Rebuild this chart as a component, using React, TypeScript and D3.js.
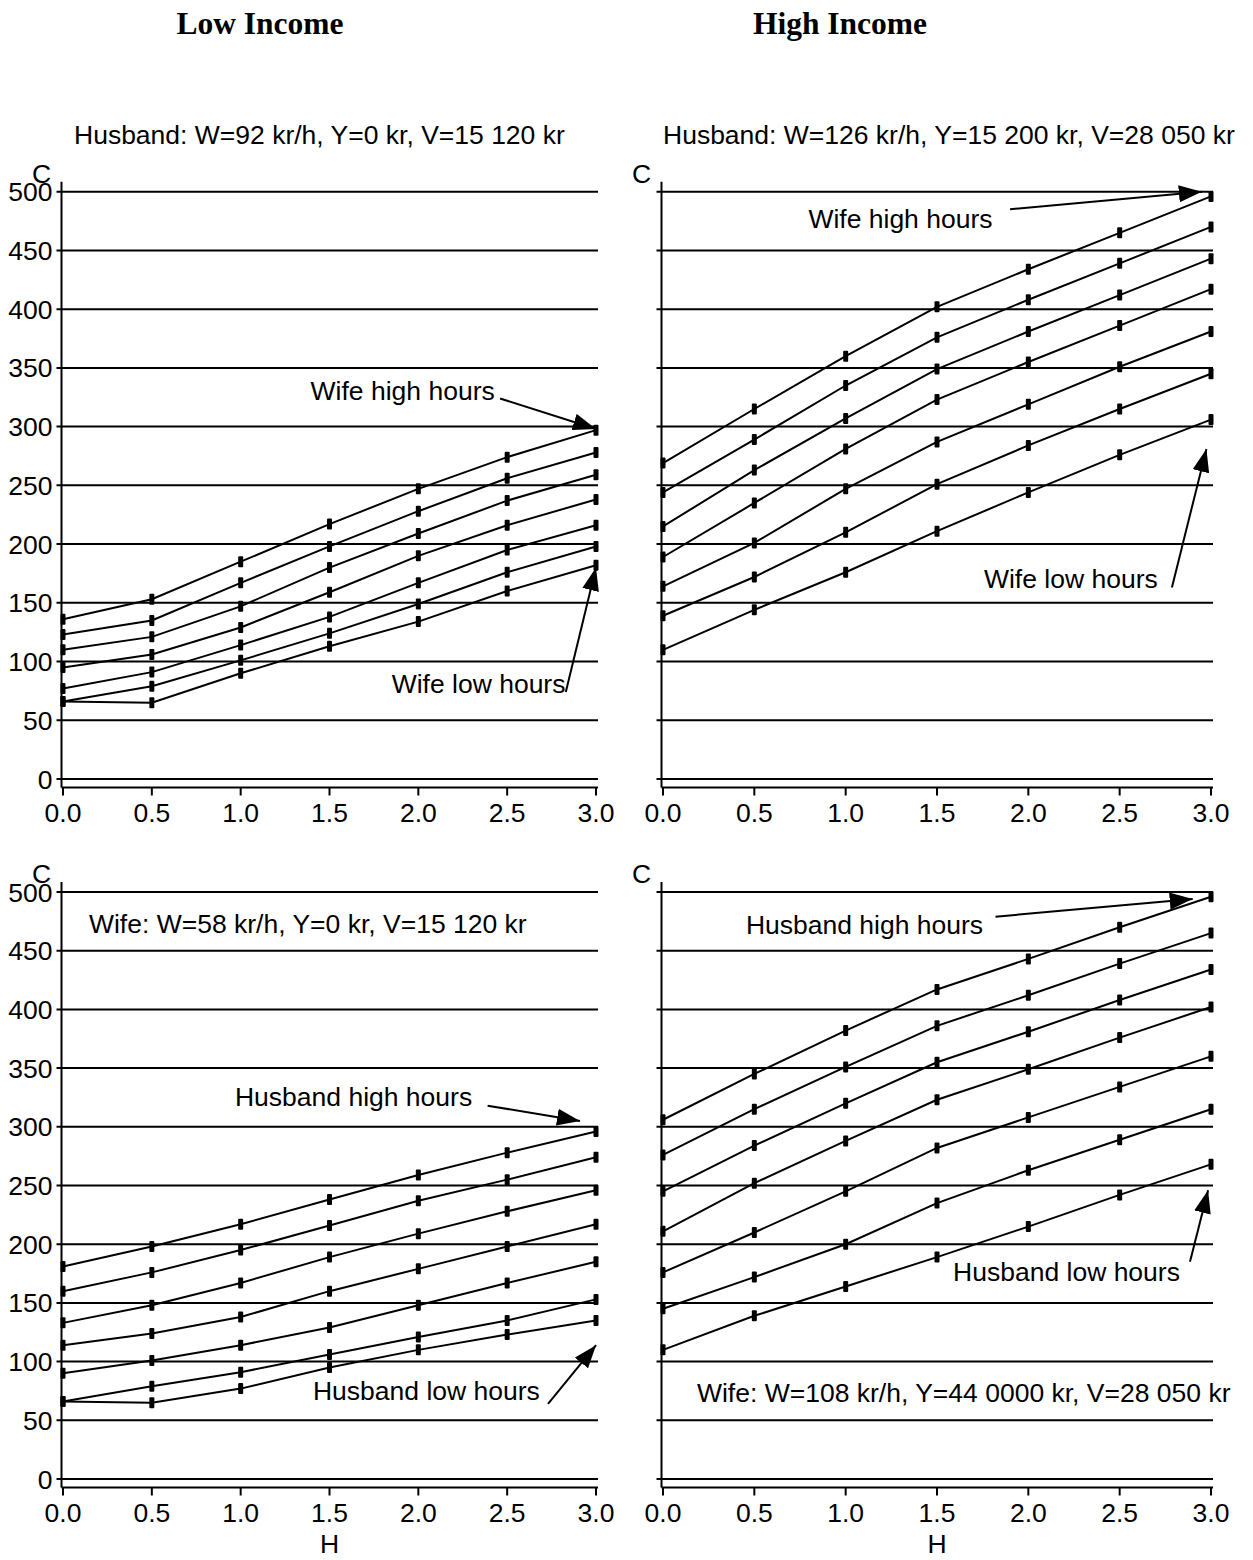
import React, { useEffect, useRef } from "react";
import * as d3 from "d3";

const width = 1253;
const height = 1560;

const hours = [0, 0.5, 1.0, 1.5, 2.0, 2.5, 3.0];
const xTicks = [0, 0.5, 1.0, 1.5, 2.0, 2.5, 3.0];
const yTicks = [0, 50, 100, 150, 200, 250, 300, 350, 400, 450, 500];

// low income, one line per wife hours level (top = high hours)
const lowWifeLines = [
  [136, 153, 185, 217, 247, 274, 297],
  [123, 135, 167, 198, 228, 256, 278],
  [110, 121, 147, 180, 209, 237, 259],
  [95, 106, 129, 159, 190, 216, 238],
  [77, 91, 114, 138, 167, 195, 216],
  [66, 79, 101, 124, 149, 176, 198],
  [66, 65, 90, 113, 134, 160, 182],
];

// high income, one line per wife hours level
const highWifeLines = [
  [269, 315, 360, 402, 434, 465, 496],
  [244, 289, 335, 376, 408, 439, 470],
  [215, 263, 307, 349, 381, 412, 443],
  [189, 235, 281, 323, 355, 386, 417],
  [164, 201, 247, 287, 319, 351, 381],
  [139, 172, 210, 251, 284, 315, 345],
  [110, 144, 176, 211, 244, 276, 306],
];

// low income, one line per husband hours level
const lowHusbandLines = [
  [181, 198, 217, 238, 259, 278, 296],
  [160, 176, 195, 216, 237, 255, 274],
  [133, 148, 167, 189, 209, 228, 246],
  [114, 124, 138, 160, 179, 198, 217],
  [90, 101, 114, 129, 148, 167, 185],
  [66, 79, 91, 106, 121, 135, 153],
  [66, 65, 77, 95, 110, 123, 135],
];

// high income, one line per husband hours level
const highHusbandLines = [
  [306, 345, 382, 417, 443, 470, 496],
  [276, 315, 351, 386, 412, 439, 465],
  [245, 284, 320, 355, 381, 408, 434],
  [211, 252, 288, 323, 349, 376, 402],
  [176, 210, 245, 282, 308, 334, 360],
  [145, 172, 200, 235, 263, 289, 315],
  [110, 139, 164, 189, 215, 242, 268],
];

const sans = "'Liberation Sans', Arial, sans-serif";
const serif = "'Liberation Serif', 'Times New Roman', serif";
const fontSize = "26.5px";

type Label = { text: string; x: number; y: number; anchor: string };
type Arrow = { from: [number, number]; to: [number, number] };

const panels = [
  {
    left: 63, right: 596, bottom: 779, top: 191.7,
    yLabels: true, xTitle: false,
    lines: lowWifeLines,
    labels: [
      { text: "Husband: W=92 kr/h, Y=0 kr, V=15 120 kr", x: 0.062, y: 541, anchor: "start" },
      { text: "Wife high hours", x: 2.43, y: 323, anchor: "end" },
      { text: "Wife low hours", x: 1.85, y: 73, anchor: "start" },
    ] as Label[],
    arrows: [
      { from: [2.46, 324], to: [3.0, 298] },
      { from: [2.83, 74], to: [3.0, 180] },
    ] as Arrow[],
  },
  {
    left: 663, right: 1211, bottom: 779, top: 191.7,
    yLabels: false, xTitle: false,
    lines: highWifeLines,
    labels: [
      { text: "Husband: W=126 kr/h, Y=15 200 kr, V=28 050 kr", x: 0, y: 541, anchor: "start" },
      { text: "Wife high hours", x: 1.3, y: 469, anchor: "middle" },
      { text: "Wife low hours", x: 1.757, y: 163, anchor: "start" },
    ] as Label[],
    arrows: [
      { from: [1.9, 485], to: [2.95, 500] },
      { from: [2.786, 163], to: [2.975, 281] },
    ] as Arrow[],
  },
  {
    left: 63, right: 596, bottom: 1479, top: 892,
    yLabels: true, xTitle: true,
    lines: lowHusbandLines,
    labels: [
      { text: "Wife: W=58 kr/h, Y=0 kr, V=15 120 kr", x: 0.146, y: 465, anchor: "start" },
      { text: "Husband high hours", x: 0.968, y: 318, anchor: "start" },
      { text: "Husband low hours", x: 1.407, y: 67, anchor: "start" },
    ] as Label[],
    arrows: [
      { from: [2.39, 318], to: [2.91, 305] },
      { from: [2.73, 64], to: [3.0, 114] },
    ] as Arrow[],
  },
  {
    left: 663, right: 1211, bottom: 1479, top: 892,
    yLabels: false, xTitle: true,
    lines: highHusbandLines,
    labels: [
      { text: "Husband high hours", x: 0.454, y: 464, anchor: "start" },
      { text: "Husband low hours", x: 1.588, y: 169, anchor: "start" },
      { text: "Wife: W=108 kr/h, Y=44 0000 kr, V=28 050 kr", x: 0.186, y: 66, anchor: "start" },
    ] as Label[],
    arrows: [
      { from: [1.82, 479], to: [2.9, 494] },
      { from: [2.885, 185], to: [2.984, 246] },
    ] as Arrow[],
  },
];

const titles = [
  { text: "Low Income", x: 260 },
  { text: "High Income", x: 840 },
];

export default function App() {
  const ref = useRef<SVGSVGElement>(null);

  useEffect(() => {
    document.body.style.margin = "0";
    const svg = d3.select(ref.current);
    svg.selectAll("*").remove();

    svg.append("rect").attr("width", width).attr("height", height).attr("fill", "#fff");

    svg
      .append("defs")
      .append("marker")
      .attr("id", "head")
      .attr("markerUnits", "userSpaceOnUse")
      .attr("viewBox", "0 0 23 17")
      .attr("refX", 23)
      .attr("refY", 8.5)
      .attr("markerWidth", 23)
      .attr("markerHeight", 17)
      .attr("orient", "auto")
      .append("path")
      .attr("d", "M0,0 L23,8.5 L0,17 Z")
      .attr("fill", "#000");

    // column titles
    svg
      .selectAll("text.title")
      .data(titles)
      .enter()
      .append("text")
      .attr("class", "title")
      .attr("x", (d) => d.x)
      .attr("y", 34)
      .attr("text-anchor", "middle")
      .style("font-family", serif)
      .style("font-weight", "bold")
      .style("font-size", "31.5px")
      .text((d) => d.text);

    panels.forEach((p) => {
      const x = d3.scaleLinear().domain([0, 3]).range([p.left, p.right]);
      const y = d3.scaleLinear().domain([0, 500]).range([p.bottom, p.top]);
      const g = svg.append("g");
      const axisX = x(0) - 1.5;
      const baseY = y(0) + 8.5;

      // gridlines with small ticks on the left
      g.selectAll("line.grid")
        .data(yTicks)
        .enter()
        .append("line")
        .attr("x1", axisX - 5)
        .attr("x2", x(3) + 2)
        .attr("y1", (d) => y(d))
        .attr("y2", (d) => y(d))
        .attr("stroke", "#000")
        .attr("stroke-width", 2);

      // y axis
      g.append("line")
        .attr("x1", axisX)
        .attr("x2", axisX)
        .attr("y1", y(500) - 10)
        .attr("y2", baseY)
        .attr("stroke", "#000")
        .attr("stroke-width", 2);

      // x axis
      g.append("line")
        .attr("x1", axisX)
        .attr("x2", x(3) + 2)
        .attr("y1", baseY)
        .attr("y2", baseY)
        .attr("stroke", "#000")
        .attr("stroke-width", 2);

      g.selectAll("line.xtick")
        .data(xTicks)
        .enter()
        .append("line")
        .attr("x1", (d) => x(d))
        .attr("x2", (d) => x(d))
        .attr("y1", baseY)
        .attr("y2", baseY + 8)
        .attr("stroke", "#000")
        .attr("stroke-width", 2);

      g.selectAll("text.xlab")
        .data(xTicks)
        .enter()
        .append("text")
        .attr("x", (d) => x(d))
        .attr("y", y(0) + 43)
        .attr("text-anchor", "middle")
        .style("font-family", sans)
        .style("font-size", fontSize)
        .text((d) => d3.format(".1f")(d));

      if (p.yLabels) {
        g.selectAll("text.ylab")
          .data(yTicks)
          .enter()
          .append("text")
          .attr("x", axisX - 9)
          .attr("y", (d) => y(d) + 9.5)
          .attr("text-anchor", "end")
          .style("font-family", sans)
          .style("font-size", fontSize)
          .text((d) => d);
      }

      g.append("text")
        .attr("x", axisX - 20)
        .attr("y", y(500) - 9)
        .attr("text-anchor", "middle")
        .style("font-family", sans)
        .style("font-size", fontSize)
        .text("C");

      if (p.xTitle) {
        g.append("text")
          .attr("x", x(1.5))
          .attr("y", y(0) + 74)
          .attr("text-anchor", "middle")
          .style("font-family", sans)
          .style("font-size", fontSize)
          .text("H");
      }

      const line = d3
        .line<number>()
        .x((d, i) => x(hours[i]))
        .y((d) => y(d));

      p.lines.forEach((vals) => {
        g.append("path")
          .datum(vals)
          .attr("d", line)
          .attr("fill", "none")
          .attr("stroke", "#000")
          .attr("stroke-width", 2);

        g.selectAll(null)
          .data(vals)
          .enter()
          .append("rect")
          .attr("x", (d, i) => x(hours[i]) - 2.5)
          .attr("y", (d) => y(d) - 5.5)
          .attr("width", 5)
          .attr("height", 11)
          .attr("rx", 1)
          .attr("fill", "#000");
      });

      p.labels.forEach((l) => {
        g.append("text")
          .attr("x", x(l.x))
          .attr("y", y(l.y))
          .attr("text-anchor", l.anchor)
          .style("font-family", sans)
          .style("font-size", fontSize)
          .text(l.text);
      });

      p.arrows.forEach((a) => {
        g.append("line")
          .attr("x1", x(a.from[0]))
          .attr("y1", y(a.from[1]))
          .attr("x2", x(a.to[0]))
          .attr("y2", y(a.to[1]))
          .attr("stroke", "#000")
          .attr("stroke-width", 2)
          .attr("marker-end", "url(#head)");
      });
    });
  }, []);

  return <svg ref={ref} width={width} height={height} style={{ display: "block" }} />;
}
